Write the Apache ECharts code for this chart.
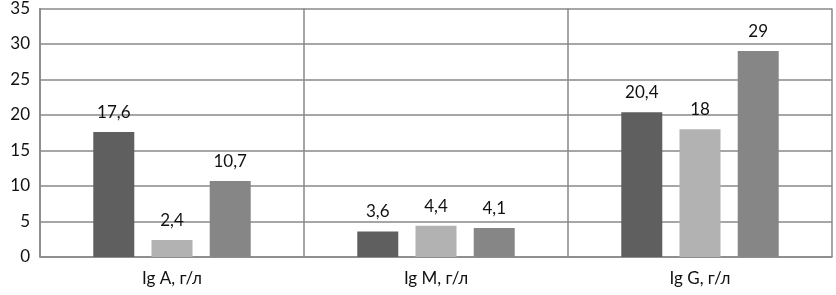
<!DOCTYPE html>
<html><head><meta charset="utf-8">
<script src="https://cdn.jsdelivr.net/npm/echarts@6/dist/echarts.min.js"></script>
<style>html,body{margin:0;padding:0;background:#fff}#c{width:836px;height:295px}</style>
</head><body><div id="c"></div>
<script>
const categories = ['Ig A, г/л', 'Ig M, г/л', 'Ig G, г/л'];
const series1 = [17.6, 3.6, 20.4];
const series2 = [2.4, 4.4, 18];
const series3 = [10.7, 4.1, 29];
const yTicks = [0, 5, 10, 15, 20, 25, 30, 35];
const colors = ['#5f5f5f', '#b2b2b2', '#868686'];

const font = 'Lato, "Open Sans", sans-serif';
const chart = echarts.init(document.getElementById('c'));
const mk = (name, data, color) => ({
  name, type: 'bar', data, barWidth: 41, barGap: '42%',
  itemStyle: { color },
  label: { show: true, position: 'top', distance: 11, color: '#111', fontSize: 17, fontFamily: font,
    formatter: p => String(p.value).replace('.', ',') }
});
chart.setOption({
  animation: false,
  grid: { left: 40, right: 4, top: 7, bottom: 38, containLabel: false },
  xAxis: {
    type: 'category', data: categories,
    axisLine: { lineStyle: { color: '#888', width: 1.5 } },
    axisTick: { show: false },
    splitLine: { show: true, lineStyle: { color: '#888', width: 1.5 } },
    axisLabel: { color: '#111', fontSize: 17, fontFamily: font, margin: 13 }
  },
  yAxis: {
    type: 'value', min: yTicks[0], max: yTicks[yTicks.length - 1], interval: 5,
    axisLine: { show: true, lineStyle: { color: '#888', width: 1.5 } },
    axisTick: { show: false },
    splitLine: { lineStyle: { color: '#888', width: 1.5 } },
    axisLabel: { color: '#111', fontSize: 17, fontFamily: font, margin: 10 }
  },
  series: [mk('s1', series1, colors[0]), mk('s2', series2, colors[1]), mk('s3', series3, colors[2])]
});
</script></body></html>
